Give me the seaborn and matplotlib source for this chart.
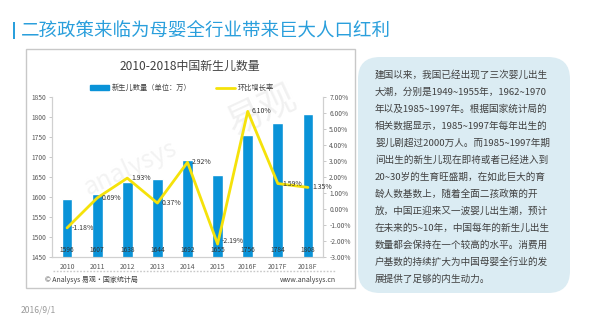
import matplotlib
matplotlib.use("Agg")
import matplotlib.pyplot as plt
import seaborn as sns
import numpy as np
import pandas as pd
from matplotlib.patches import FancyBboxPatch, Patch, Rectangle
from matplotlib.lines import Line2D
from matplotlib.ticker import FuncFormatter, MultipleLocator

# ---------------- data ----------------
years = ["2010", "2011", "2012", "2013", "2014", "2015", "2016F", "2017F", "2018F"]
births = [1596, 1607, 1638, 1644, 1692, 1655, 1756, 1784, 1808]
growth = [-1.18, 0.69, 1.93, 0.37, 2.92, -2.19, 6.10, 1.59, 1.35]

main_title = "二孩政策来临为母婴全行业带来巨大人口红利"
chart_title = "2010-2018中国新生儿数量"
legend_bar = "新生儿数量（单位：万）"
legend_line = "环比增长率"
source_left = "© Analysys 易观·国家统计局"
source_right = "www.analysys.cn"
date_text = "2016/9/1"
body_lines = [
    "建国以来，我国已经出现了三次婴儿出生",
    "大潮，分别是1949~1955年，1962~1970",
    "年以及1985~1997年。根据国家统计局的",
    "相关数据显示，1985~1997年每年出生的",
    "婴儿剧超过2000万人。而1985~1997年期",
    "间出生的新生儿现在即将或者已经进入到",
    "20~30岁的生育旺盛期，在如此巨大的育",
    "龄人数基数上，随着全面二孩政策的开",
    "放，中国正迎来又一波婴儿出生潮，预计",
    "在未来的5~10年，中国每年的新生儿出生",
    "数量都会保持在一个较高的水平。消费用",
    "户基数的持续扩大为中国母婴全行业的发",
    "展提供了足够的内生动力。",
]

BLUE = "#0a93d8"
YELLOW = "#f5e20a"
TITLE_BLUE = "#2a9fdc"
TXT = "#404040"
TICK = "#595959"

sns.set_theme(style="white")
plt.rcParams["font.family"] = ["Noto Sans CJK SC", "DejaVu Sans"]
plt.rcParams["axes.unicode_minus"] = False

W, H = 600, 321
fig = plt.figure(figsize=(W / 100, H / 100), dpi=100)
fig.patch.set_facecolor("white")

# overlay axes in pixel coordinates for decorations
deco = fig.add_axes([0, 0, 1, 1], zorder=0)
deco.set_xlim(0, W)
deco.set_ylim(H, 0)
deco.axis("off")

# title bar
deco.add_patch(Rectangle((13, 22), 2.2, 17, color=TITLE_BLUE, lw=0))
deco.text(21, 30.5, main_title, fontsize=13.3, color=TITLE_BLUE, va="center", ha="left")

# chart panel frame
deco.add_patch(Rectangle((25.5, 48.5), 329.5, 239.5, fill=False, ec="#c8c8c8", lw=1.0))
deco.text(190, 66, chart_title, fontsize=8.6, color=TXT, ha="center", va="center")
deco.plot([53, 336], [271, 271], ls=(0, (1.2, 1.2)), color="#c8c8c8", lw=1.0)
deco.text(45, 280, source_left, fontsize=5.0, color=TXT, ha="left", va="center")
deco.text(336, 280, source_right, fontsize=5.0, color=TXT, ha="right", va="center")
deco.text(21, 310, date_text, fontsize=6.2, color="#9a9a9a", ha="left", va="center")

# faint watermark
deco.text(262, 110, "易观", fontsize=26, color="#f1f1f1", rotation=25, ha="center", va="center", zorder=0)
deco.text(130, 168, "analysys", fontsize=18, color="#f3f3f3", rotation=25, ha="center", va="center", zorder=0)

# text box
deco.add_patch(FancyBboxPatch((358 + 22, 57 + 22), 212 - 44, 236 - 44,
                              boxstyle="round,pad=22", fc="#dbecf3", ec="none"))
y0, dy = 75, 17.0
for i, line in enumerate(body_lines):
    deco.text(375, y0 + i * dy, line, fontsize=6.9, color=TXT, ha="left", va="center")

# ---------------- chart ----------------
ax = fig.add_axes([52 / W, 1 - 257 / H, (323 - 52) / W, (257 - 97) / H], zorder=2)
ax.patch.set_alpha(0)
df = pd.DataFrame({"year": years, "births": births, "growth": growth})
sns.barplot(data=df, x="year", y="births", color=BLUE, width=0.36, ax=ax,
            saturation=1, zorder=2)
ax.set_ylim(1450, 1850)
ax.set_xlim(-0.5, len(years) - 0.5)
ax.yaxis.set_major_locator(MultipleLocator(50))
ax.set_xlabel("")
ax.set_ylabel("")
for i, v in enumerate(births):
    ax.annotate(str(v), (i, 1450), xytext=(0, 5), textcoords="offset points",
                ha="center", va="center", fontsize=4.8, color="#333333", zorder=5)

ax2 = ax.twinx()
sns.pointplot(data=df, x="year", y="growth", color=YELLOW, markers="",
              linewidth=2.0, ax=ax2, zorder=4)
ax2.set_ylim(-3, 7)
ax2.set_xlim(-0.5, len(years) - 0.5)
ax2.yaxis.set_major_locator(MultipleLocator(1))
ax2.yaxis.set_major_formatter(FuncFormatter(lambda v, p: f"{v:.2f}%"))
ax2.set_xlabel("")
ax2.set_ylabel("")
for i, v in enumerate(growth):
    dy_pt = 2.5 if v < -2 else 0
    ax2.annotate(f"{v:.2f}%", (i, v), xytext=(3, dy_pt), textcoords="offset points",
                 ha="left", va="center", fontsize=5.0, color="#333333", zorder=6)

for a in (ax, ax2):
    for s in a.spines.values():
        s.set_color("#d0d0d0")
        s.set_linewidth(0.8)
    a.spines["top"].set_visible(False)
    a.tick_params(axis="both", labelsize=4.8, colors=TICK, length=2.5, width=0.6,
                  color="#c0c0c0", pad=2)
ax.tick_params(axis="x", length=0, pad=4, labelsize=5.0)
ax2.tick_params(axis="y", pad=2)
ax.yaxis.tick_left()
ax.tick_params(axis="y", pad=12)
for lbl in ax.get_yticklabels():
    lbl.set_ha("left")

# legend
handles = [Patch(color=BLUE, label=legend_bar),
           Line2D([0], [0], color=YELLOW, lw=2, label=legend_line)]
fig.legend(handles=handles, loc="center", bbox_to_anchor=(182 / W, 1 - 88 / H),
           ncol=2, frameon=False, fontsize=5.2, handlelength=2.6, handleheight=0.6,
           columnspacing=3.5, handletextpad=0.3, labelcolor=TXT)

fig.savefig("out.png", dpi=100)
